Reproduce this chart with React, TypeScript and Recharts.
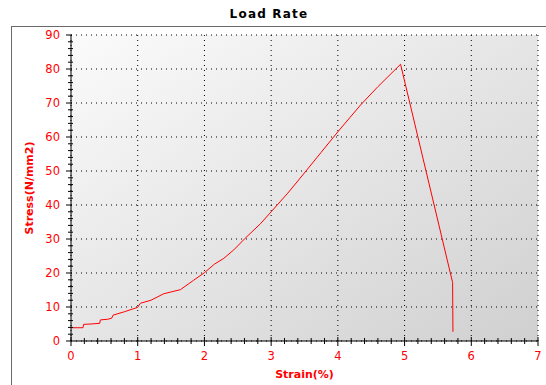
import React from "react"
import {
  LineChart,
  Line,
  XAxis,
  YAxis,
  CartesianGrid,
  Label,
} from "recharts"

// strain (%) and stress (N/mm2)
const strain = [
  0, 0.18, 0.19, 0.3, 0.43, 0.44, 0.55, 0.61, 0.63, 0.8, 1.0, 1.04, 1.2, 1.39,
  1.64, 1.84, 2.0, 2.15, 2.29, 2.44, 2.61, 2.84, 3.0, 3.25, 3.51, 3.75, 4.02,
  4.34, 4.6, 4.94, 5.72, 5.725,
]
const stress = [
  3.9, 3.9, 4.9, 5.0, 5.2, 6.2, 6.4, 6.7, 7.6, 8.6, 9.9, 11.1, 12, 13.9, 15.1,
  17.9, 20.1, 22.6, 24.3, 26.8, 30.2, 34.5, 38, 43.5, 49.7, 55.5, 62, 69.4,
  74.8, 81.4, 17.2, 2.7,
]

const xMajor = [0, 1, 2, 3, 4, 5, 6, 7]
const yMajor = [0, 10, 20, 30, 40, 50, 60, 70, 80, 90]
// minor tick marks every 0.2 % and every 2 N/mm2
const xMinor = Array.from({ length: 36 }, (_, i) => Math.round(i * 2) / 10)
const yMinor = Array.from({ length: 46 }, (_, i) => i * 2)

const data = strain.map((x, i) => ({ x, y: stress[i] }))

const RED = "#ff0000"
const FONT = "'DejaVu Sans', Verdana, sans-serif"

const isMajor = (v: number, step: number) =>
  Math.abs(v / step - Math.round(v / step)) < 1e-6

function XTick({ x, y, payload }: any) {
  const v = payload.value
  const major = isMajor(v, 1)
  return (
    <g>
      <line
        x1={x}
        x2={x}
        y1={major ? y - 4 : y - 3}
        y2={major ? y + 5 : y + 3}
        stroke="#000"
      />
      {major && (
        <text x={x} y={y + 19} textAnchor="middle" fill={RED} fontSize={11.5} fontFamily={FONT}>
          {Math.round(v)}
        </text>
      )}
    </g>
  )
}

function YTick({ x, y, payload }: any) {
  const v = payload.value
  const major = isMajor(v, 10)
  return (
    <g>
      <line
        x1={major ? x - 5 : x - 3}
        x2={major ? x + 1 : x + 2}
        y1={y}
        y2={y}
        stroke="#000"
      />
      {major && (
        <text x={x - 11} y={y + 4} textAnchor="end" fill={RED} fontSize={11.5} fontFamily={FONT}>
          {v}
        </text>
      )}
    </g>
  )
}

function TopTick({ x, y, payload }: any) {
  const major = isMajor(payload.value, 1)
  return <line x1={x} x2={x} y1={major ? y - 1 : y} y2={major ? y + 4 : y + 3} stroke="#000" />
}

export default function App() {
  return (
    <div style={{ position: "absolute", left: 0, top: 0, width: 546, height: 385, background: "#fff", overflow: "hidden" }}>
      <div
        style={{
          position: "absolute",
          left: 11,
          top: 26,
          width: 535,
          height: 359,
          borderTop: "1px solid #6a6a6a",
          borderLeft: "1px solid #6a6a6a",
        }}
      />
      <div
        style={{
          position: "absolute",
          left: 0,
          top: 7,
          width: 538,
          textAlign: "center",
          fontFamily: FONT,
          fontWeight: "bold",
          fontSize: 12,
          letterSpacing: 1.2,
          lineHeight: "14px",
          color: "#000",
        }}
      >
        Load Rate
      </div>
      <div style={{ position: "absolute", left: 0, top: 0 }}>
        <LineChart
          width={546}
          height={385}
          data={data}
          margin={{ top: 35, right: 8, bottom: 0, left: 11 }}
          style={{ fontFamily: FONT }}
        >
          <defs>
            <linearGradient id="plotBg" x1="0" y1="0" x2="1" y2="1">
              <stop offset="0%" stopColor="#fbfbfb" />
              <stop offset="100%" stopColor="#d0d0d0" />
            </linearGradient>
          </defs>
          <CartesianGrid
            fill="url(#plotBg)"
            fillOpacity={1}
            stroke="#000"
            strokeDasharray="1 4"
            horizontalValues={yMajor}
            verticalValues={xMajor}
          />
          <XAxis
            dataKey="x"
            type="number"
            domain={[0, 7]}
            ticks={xMinor}
            interval={0}
            tickSize={0}
            tickMargin={0}
            tickLine={false}
            tick={<XTick />}
            axisLine={{ stroke: "#000" }}
            height={44}
            allowDataOverflow
          >
            <Label
              value="Strain(%)"
              position="insideBottom"
              offset={7}
              fill={RED}
              fontWeight="bold"
              fontSize={11}
              fontFamily={FONT}
            />
          </XAxis>
          <XAxis
            xAxisId="top"
            orientation="top"
            type="number"
            domain={[0, 7]}
            ticks={xMinor}
            interval={0}
            tickSize={0}
            tickMargin={0}
            tickLine={false}
            tick={<TopTick />}
            axisLine={{ stroke: "#000" }}
            height={0}
          />
          <YAxis
            type="number"
            domain={[0, 90]}
            ticks={yMinor}
            interval={0}
            tickSize={0}
            tickMargin={0}
            tickLine={false}
            tick={<YTick />}
            axisLine={{ stroke: "#000" }}
            width={60}
          >
            <Label
              value="Stress(N/mm2)"
              angle={-90}
              position="insideLeft"
              offset={18}
              fill={RED}
              fontWeight="bold"
              fontSize={11}
              fontFamily={FONT}
              style={{ textAnchor: "middle" }}
            />
          </YAxis>
          <YAxis
            yAxisId="right"
            orientation="right"
            type="number"
            domain={[0, 90]}
            tick={false}
            tickLine={false}
            axisLine={{ stroke: "#555" }}
            width={0}
          />
          <Line
            type="linear"
            dataKey="y"
            stroke={RED}
            strokeWidth={1}
            dot={false}
            activeDot={false}
            isAnimationActive={false}
          />
        </LineChart>
      </div>
    </div>
  )
}
